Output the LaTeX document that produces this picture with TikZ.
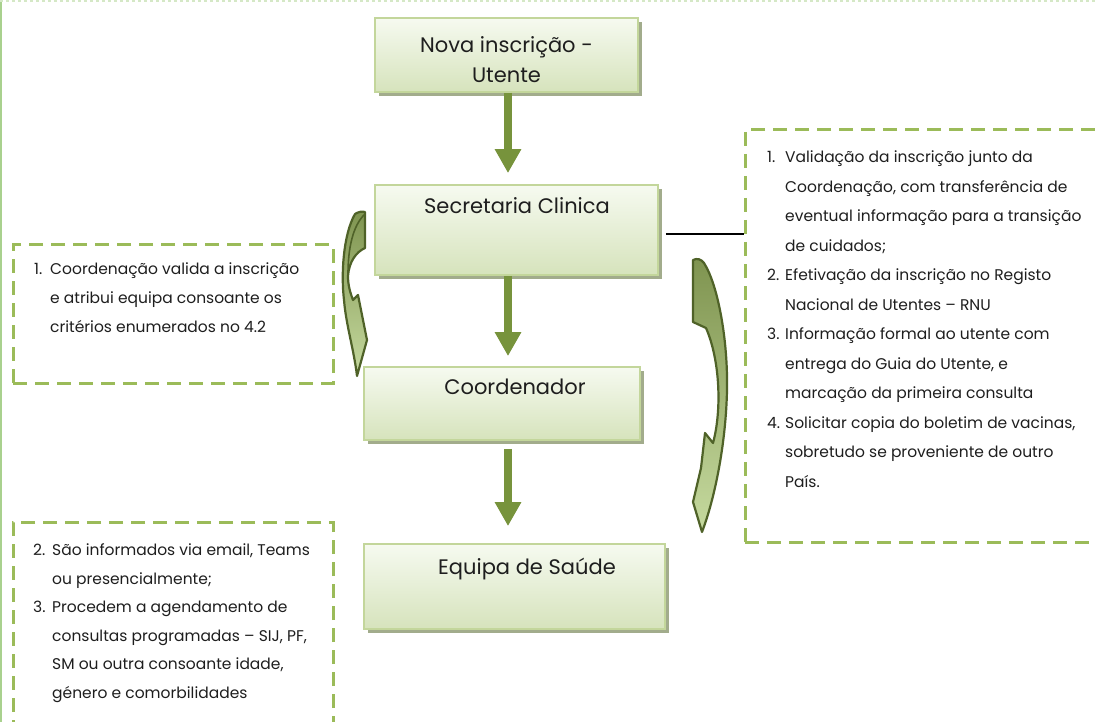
\documentclass[tikz,border=0pt]{standalone}
\usepackage{fontspec}
\setmainfont{Poppins}
\usetikzlibrary{arrows.meta,shadows}

\definecolor{boxline}{HTML}{C3D69B}
\definecolor{boxtop}{HTML}{F6FAF0}
\definecolor{boxbot}{HTML}{D6E3BC}
\definecolor{boxshade}{HTML}{A2AC8C}
\definecolor{flowgreen}{HTML}{77933C}
\definecolor{dashgreen}{HTML}{9BBB59}
\definecolor{curveline}{HTML}{4F6228}
\definecolor{curvetop}{HTML}{7F9450}
\definecolor{curvebot}{HTML}{C6DA9F}
\definecolor{frameline}{HTML}{A9D18E}
\definecolor{framedash}{HTML}{D5E8C6}
\definecolor{ink}{HTML}{1E1E1E}

\tikzset{
  flowbox/.style={draw=boxline, line width=1.8pt, top color=boxtop,
    bottom color=boxbot, inner sep=0pt,
    general shadow={fill=boxshade, shadow xshift=4pt, shadow yshift=-4pt}},
  flowtext/.style={font=\fontsize{21}{30}\selectfont, text=ink,
    align=center, inner sep=0pt},
  notebox/.style={draw=dashgreen, line width=3pt,
    dash pattern=on 14pt off 8pt, inner sep=0pt},
  listtext/.style={font=\fontsize{15.5}{29.5}\selectfont, text=ink,
    inner sep=0pt, anchor=mid west},
  flowarrow/.style={draw=flowgreen, line width=8pt,
    -{Triangle[width=25pt,length=24pt]}},
  curvearrow/.style={draw=curveline, line width=2.2pt, line join=round,
    top color=curvetop, bottom color=curvebot},
  foldline/.style={draw=curveline, line width=1.6pt, line cap=round},
}

\begin{document}
\begin{tikzpicture}[x=1pt, y=-1pt]
\useasboundingbox (0,0) rectangle (1095,722);
\clip (0,0) rectangle (1095,722);

% page frame
\draw[frameline, line width=2pt] (1,0) -- (1,722);
\draw[framedash, line width=2pt, dash pattern=on 3pt off 3pt] (0,1) -- (1095,1);

% flow boxes
\node[flowbox, minimum width=263pt, minimum height=74pt] (b1) at (506.5,55) {};
\node[flowbox, minimum width=283pt, minimum height=90pt] (b2) at (516.5,230) {};
\node[flowbox, minimum width=276pt, minimum height=73pt] (b3) at (502,403.5) {};
\node[flowbox, minimum width=301pt, minimum height=85pt] (b4) at (514.5,586.5) {};

\node[flowtext] (b1txt) at (506.5,60) {Nova inscrição -\\Utente};
\node[flowtext, anchor=mid] (b2txt) at (517,211) {Secretaria Clinica};
\node[flowtext, anchor=mid] (b3txt) at (515,392) {Coordenador};
\node[flowtext, anchor=mid] (b4txt) at (527,572) {Equipa de Saúde};

% straight flow arrows
\coordinate (axis) at (508,0);
\draw[flowarrow, shorten >=11pt] (b1.south -| axis) -- (b2.north -| axis);
\draw[flowarrow, shorten >=10pt] (b2.south -| axis) -- (b3.north -| axis);
\draw[flowarrow, shorten <=8pt, shorten >=17pt] (b3.south -| axis) -- (b4.north -| axis);

% note frames
\node[notebox, minimum width=320pt, minimum height=138pt] (lbox) at (173,314) {};
\node[notebox, minimum width=365pt, minimum height=412pt] (rbox) at (927.5,336) {};
\node[notebox, minimum width=320pt, minimum height=218pt] (bbox) at (173,631) {};

% link from the secretariat to its task list
\coordinate (c1) at ([shift={(7pt,-4pt)}]b2.east);
\draw[line width=1.2pt] (c1) -- (c1 -| rbox.west);

% task lists
\foreach \n/\t [count=\i] in {
  1./{Coordenação valida a inscrição},
  {}/{e atribui equipa consoante os},
  {}/{critérios enumerados no 4.2}}
  \node[listtext] (ll\i) at (34,{272+29*(\i-1)}) {\makebox[16pt][l]{\n}\t};

\foreach \n/\t [count=\i] in {
  1./{Validação da inscrição junto da},
  {}/{Coordenação, com transferência de},
  {}/{eventual informação para a transição},
  {}/{de cuidados;},
  2./{Efetivação da inscrição no Registo},
  {}/{Nacional de Utentes – RNU},
  3./{Informação formal ao utente com},
  {}/{entrega do Guia do Utente, e},
  {}/{marcação da primeira consulta},
  4./{Solicitar copia do boletim de vacinas,},
  {}/{sobretudo se proveniente de outro},
  {}/{País.}}
  \node[listtext] (rl\i) at (767,{160+29.5*(\i-1)}) {\makebox[18pt][l]{\n}\t};

\foreach \n/\t [count=\i] in {
  2./{São informados via email, Teams},
  {}/{ou presencialmente;},
  3./{Procedem a agendamento de},
  {}/{consultas programadas – SIJ, PF,},
  {}/{SM ou outra consoante idade,},
  {}/{género e comorbilidades}}
  \node[listtext] (bl\i) at (33,{553+28.5*(\i-1)}) {\makebox[19pt][l]{\n}\t};

% curved arrow, secretariat to coordinator
\draw[curvearrow] (365,212) -- (365,248)
  .. controls (356,252) and (349,262) .. (348,276)
  .. controls (348,285) and (350,292) .. (353,300)
  -- (358,295) -- (367,340) -- (357,376)
  .. controls (354,350) and (346,325) .. (344,300)
  .. controls (341,275) and (343,235) .. (355,214)
  .. controls (358,212) and (362,211) .. (365,212) -- cycle;
% fold of the ribbon near its tail
\draw[foldline] (364,215) .. controls (353,226) and (348,248) .. (348,274);

% curved arrow, secretariat tasks to health team
\draw[curvearrow] (693,260) .. controls (697,258) and (701,259) .. (704,263)
  .. controls (718,285) and (728,340) .. (727,390)
  .. controls (726,440) and (716,495) .. (702,532)
  -- (693,502) -- (701,468) -- (705,433) -- (713,443)
  .. controls (722,410) and (720,360) .. (706,328)
  -- (693,322) -- cycle;
\end{tikzpicture}
\end{document}
